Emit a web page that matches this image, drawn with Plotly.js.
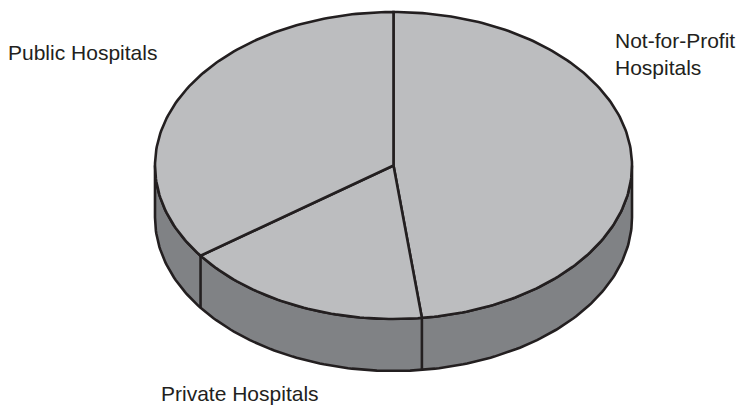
<!DOCTYPE html>
<html>
<head>
<meta charset="utf-8">
<script src="https://cdn.plot.ly/plotly-3.0.1.min.js"></script>
<style>html,body{margin:0;padding:0;background:#fff}#chart{width:738px;height:405px}</style>
</head>
<body>
<div id="chart"></div>
<script>
// Hospital ownership shares, clockwise from twelve o'clock
const categories = ['Not-for-Profit Hospitals', 'Private Hospitals', 'Public Hospitals'];
const shares = [48.1, 16.9, 35.0];
const labelLines = ['Not-for-Profit<br>Hospitals', 'Private Hospitals', 'Public Hospitals'];
const labelX = [613, 159, 6];
const labelY = [53.5, 393.5, 52.5];

// Tilted disc geometry, in plot units
const cx = 393.5, cy = 165.5, rx = 238.5, ry = 153.5, depth = 52;
const topColor = '#bcbdbf', wallColor = '#808285', ink = '#231f20', lineWidth = 2.6;

const rad = d => d * Math.PI / 180;
const rimX = a => cx + rx * Math.sin(rad(a));
const rimY = (a, drop) => cy - ry * Math.cos(rad(a)) + drop;
function arc(a0, a1, drop) {
  const xs = [], ys = [], n = Math.max(2, Math.ceil(Math.abs(a1 - a0)));
  for (let i = 0; i <= n; i++) {
    const a = a0 + (a1 - a0) * i / n;
    xs.push(rimX(a)); ys.push(rimY(a, drop));
  }
  return {xs, ys};
}

const total = shares.reduce((s, v) => s + v, 0);
const edges = [0];
shares.forEach(v => edges.push(edges[edges.length - 1] + v / total * 360));

const traces = [];
const hidden = {hoverinfo: 'skip', showlegend: false};
const outline = {color: ink, width: lineWidth};

// Outer wall: the front half of the rim, dropped by the disc depth
const upper = arc(90, 270, 0), lower = arc(270, 90, depth);
traces.push(Object.assign({
  type: 'scatter', mode: 'lines', name: 'wall',
  x: upper.xs.concat(lower.xs, [upper.xs[0]]), y: upper.ys.concat(lower.ys, [upper.ys[0]]),
  fill: 'toself', fillcolor: wallColor, line: outline
}, hidden));

// Vertical seams where slice boundaries meet the wall
edges.slice(1, -1).forEach(a => {
  if (a > 90 && a < 270) {
    traces.push(Object.assign({
      type: 'scatter', mode: 'lines',
      x: [rimX(a), rimX(a)], y: [rimY(a, 0), rimY(a, depth)], line: outline
    }, hidden));
  }
});

// Top face slices
categories.forEach((name, i) => {
  const r = arc(edges[i], edges[i + 1], 0);
  traces.push(Object.assign({
    type: 'scatter', mode: 'lines', name,
    x: [cx].concat(r.xs, [cx]), y: [cy].concat(r.ys, [cy]),
    fill: 'toself', fillcolor: topColor, line: outline
  }, hidden));
});

// Slice captions
const annotations = labelLines.map((text, i) => ({
  x: labelX[i], y: labelY[i], xref: 'x', yref: 'y',
  text, showarrow: false, xanchor: 'left', yanchor: 'middle', align: 'left',
  font: {family: 'Liberation Sans, Arial, sans-serif', size: 21, color: ink}
}));

const axis = {visible: false, fixedrange: true};
Plotly.newPlot('chart', traces, {
  width: 738, height: 405,
  margin: {l: 0, r: 0, t: 0, b: 0},
  paper_bgcolor: '#fff', plot_bgcolor: '#fff',
  showlegend: false,
  xaxis: Object.assign({range: [0, 738]}, axis),
  yaxis: Object.assign({range: [405, 0]}, axis),
  annotations
}, {displayModeBar: false, staticPlot: true});
</script>
</body>
</html>
